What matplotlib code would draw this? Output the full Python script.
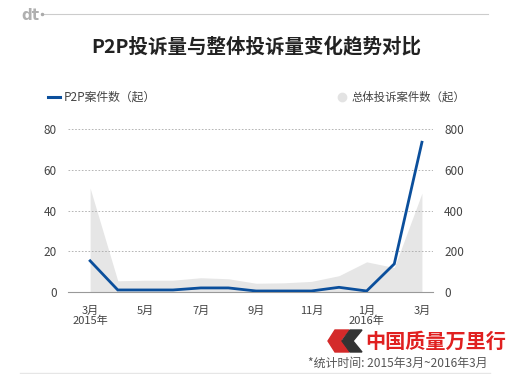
import matplotlib
matplotlib.use("Agg")
import matplotlib.pyplot as plt
from matplotlib.patches import Polygon
from matplotlib.lines import Line2D

plt.rcParams['font.family'] = ['Noto Sans CJK SC', 'DejaVu Sans']

months = list(range(13))
p2p = [15.3, 1, 1, 1, 2, 2, 0.5, 0.5, 0.5, 2.3, 0.5, 13.8, 73.5]
total = [510, 55, 58, 58, 70, 65, 43, 45, 52, 80, 148, 120, 485]
tick_pos = [0, 2, 4, 6, 8, 10, 12]
tick_labels = ['3月\n2015年', '5月', '7月', '9月', '11月', '1月\n2016年', '3月']
left_ticks = [0, 20, 40, 60, 80]
right_ticks = [0, 200, 400, 600, 800]

W, H = 512, 374
fig = plt.figure(figsize=(W/100, H/100), dpi=100)

def fx(px): return px / W
def fy(py): return 1 - py / H

ax_l, ax_r, ax_t, ax_b = 68, 433, 129, 292
ax = fig.add_axes([fx(ax_l), fy(ax_b), fx(ax_r) - fx(ax_l), fy(ax_t) - fy(ax_b)])
ax2 = ax.twinx()
ax.set_zorder(ax2.get_zorder() + 1)
ax.patch.set_visible(False)

ax2.fill_between(months, total, 0, color='#e6e6e6', lw=0)
ax.plot(months, p2p, color='#0b4f9c', lw=2.0, solid_joinstyle='miter')

ax.set_xlim(-0.8, 12.4)
ax.set_ylim(0, 80)
ax2.set_ylim(0, 800)

for a in (ax, ax2):
    for s in a.spines.values():
        s.set_visible(False)
ax2.spines['bottom'].set_visible(True)
ax2.spines['bottom'].set_color('#999999')
ax2.spines['bottom'].set_linewidth(0.8)

ax2.set_yticks(right_ticks)
ax.set_yticks(left_ticks)
ax2.grid(axis='y', color='#aaaaaa', linestyle=(0, (2, 2)), lw=0.6)
ax.set_xticks(tick_pos)
ax.set_xticklabels(tick_labels, linespacing=1.0)
ax.tick_params(axis='x', length=0, pad=10, labelsize=8, labelcolor='#444444')
ax.tick_params(axis='y', length=0, pad=8, labelsize=8.5, labelcolor='#444444')
ax2.tick_params(axis='y', length=0, pad=8, labelsize=8.5, labelcolor='#444444')

# header
fig.text(fx(21), fy(15), 'dt', fontsize=11, color='#b0b0b0', fontweight='bold',
         va='center', ha='left', family='DejaVu Sans')
fig.add_artist(Line2D([fx(42), fx(488)], [fy(14), fy(14)], color='#cccccc', lw=0.8))
fig.add_artist(Line2D([fx(42)], [fy(14)], marker='o', ms=1.5, color='#aaaaaa'))
fig.text(0.5, fy(46), 'P2P投诉量与整体投诉量变化趋势对比', fontsize=14, fontweight='bold',
         color='#222222', ha='center', va='center')

# legends
fig.add_artist(Line2D([fx(48), fx(60)], [fy(97), fy(97)], color='#0b4f9c', lw=2.2))
fig.text(fx(64), fy(97), 'P2P案件数（起）', fontsize=8.5, color='#444444', va='center', ha='left')
fig.add_artist(Line2D([fx(342)], [fy(97)], marker='o', ms=6, color='#e3e3e3', lw=0))
fig.text(fx(352), fy(97), '总体投诉案件数（起）', fontsize=8.2, color='#444444', va='center', ha='left')

# watermark
fig.add_artist(Polygon([[fx(335), fy(330)], [fx(349), fy(330)], [fx(341), fy(340)],
                        [fx(349), fy(352)], [fx(335), fy(352)], [fx(328), fy(341)]],
                       closed=True, color='#d42a2a'))
fig.add_artist(Polygon([[fx(350), fy(330)], [fx(362), fy(330)], [fx(353), fy(341)],
                        [fx(362), fy(352)], [fx(350), fy(352)], [fx(342), fy(341)]],
                       closed=True, color='#333333'))
fig.text(fx(365), fy(341), '中国质量万里行', fontsize=14.5, color='#e02020', fontweight='bold',
         va='center', ha='left')

fig.text(fx(487), fy(363), '*统计时间: 2015年3月~2016年3月', fontsize=8.6, color='#555555',
         va='center', ha='right')
fig.add_artist(Line2D([fx(20), fx(490)], [fy(373), fy(373)], color='#e6e6e6', lw=1))

fig.savefig('out.png', dpi=100)
